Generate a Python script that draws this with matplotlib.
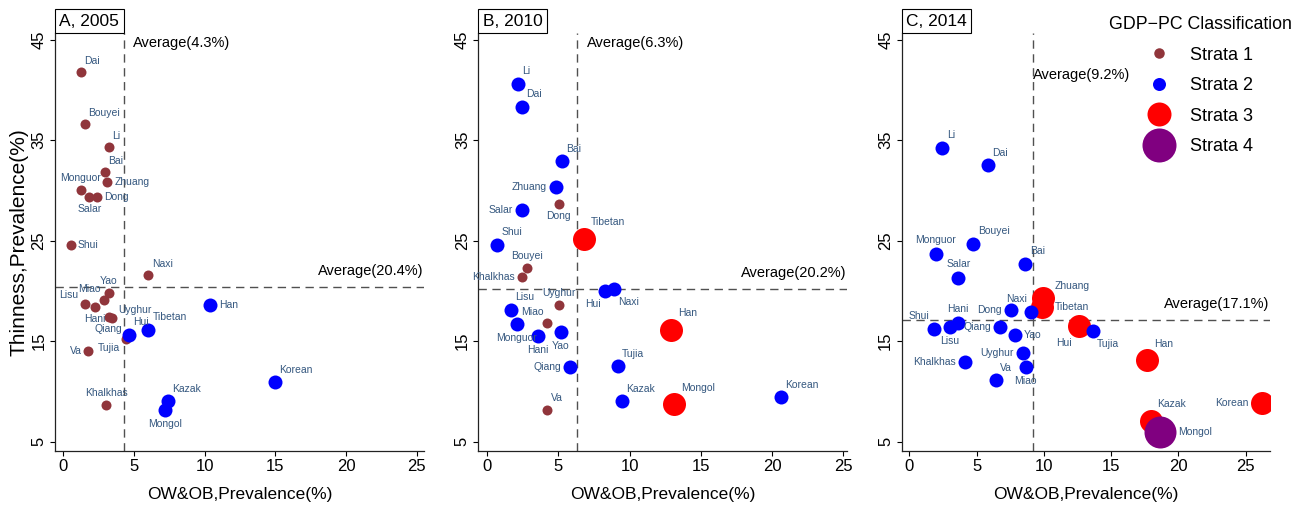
import numpy as np
import matplotlib.pyplot as plt
from matplotlib.lines import Line2D

plt.rcParams['font.family'] = ['Liberation Sans', 'DejaVu Sans']

# ethnic groups (same order for every year)
groups = ['Dai', 'Bouyei', 'Li', 'Bai', 'Zhuang', 'Monguor', 'Salar', 'Dong', 'Shui', 'Naxi',
          'Yao', 'Miao', 'Lisu', 'Hani', 'Qiang', 'Uyghur', 'Tujia', 'Va', 'Hui', 'Tibetan',
          'Han', 'Korean', 'Kazak', 'Mongol', 'Khalkhas']

# 2005
ob_2005 = [1.23, 1.51, 3.21, 2.93, 3.11, 1.23, 1.84, 2.36, 0.52, 6.01,
           3.21, 2.90, 1.51, 2.22, 3.21, 3.44, 4.43, 1.77, 4.63, 5.99,
           10.40, 14.97, 7.38, 7.19, 3.02]
thin_2005 = [41.8, 36.6, 34.3, 31.8, 30.8, 30.0, 29.3, 29.3, 24.6, 21.6,
             19.8, 19.1, 18.7, 18.4, 17.4, 17.3, 15.2, 14.0, 15.6, 16.1,
             18.6, 10.9, 9.0, 8.2, 8.6]
strata_2005 = [1, 1, 1, 1, 1, 1, 1, 1, 1, 1,
               1, 1, 1, 1, 1, 1, 1, 1, 2, 2,
               2, 2, 2, 2, 1]
pos_2005 = [1, 1, 1, 1, 3, 12, 6, 3, 3, 1,
            12, 11, 10, 6, 6, 2, 8, 9, 1, 1,
            3, 1, 1, 6, 12]

# 2010
ob_2010 = [2.44, 2.77, 2.16, 5.22, 4.82, 2.06, 2.44, 5.01, 0.66, 8.90,
           5.15, 4.21, 1.66, 3.54, 5.81, 5.01, 9.16, 4.21, 8.27, 6.79,
           12.90, 20.62, 9.46, 13.11, 2.46]
thin_2010 = [38.3, 22.3, 40.6, 32.9, 30.3, 16.7, 28.1, 28.7, 24.6, 20.2,
             15.9, 16.8, 18.1, 15.5, 12.4, 18.6, 12.5, 8.2, 20.0, 25.2,
             16.1, 9.4, 9.0, 8.7, 21.4]
strata_2010 = [2, 1, 2, 2, 2, 2, 2, 1, 2, 2,
               2, 1, 2, 2, 2, 1, 2, 1, 2, 3,
               3, 2, 2, 3, 1]
pos_2010 = [1, 12, 1, 1, 9, 6, 9, 6, 1, 5,
            6, 11, 1, 6, 9, 12, 1, 1, 7, 1,
            1, 1, 1, 1, 9]

# 2014
ob_2014 = [5.82, 4.75, 2.45, 8.62, 9.96, 1.96, 3.64, 7.53, 1.84, 9.06,
           7.83, 8.65, 3.02, 3.60, 6.74, 8.45, 13.63, 6.44, 12.61, 9.84,
           17.68, 26.20, 17.93, 18.63, 4.16]
thin_2014 = [32.5, 24.7, 34.2, 22.7, 19.3, 23.7, 21.3, 18.1, 16.2, 17.9,
             15.6, 12.4, 16.4, 16.8, 16.4, 13.8, 16.0, 11.1, 16.5, 18.4,
             13.1, 8.8, 7.1, 6.0, 12.9]
strata_2014 = [2, 2, 2, 2, 3, 2, 2, 2, 2, 2,
               2, 2, 2, 2, 2, 2, 2, 2, 3, 3,
               3, 3, 3, 4, 2]
pos_2014 = [1, 1, 1, 1, 2, 12, 12, 9, 11, 11,
            3, 6, 6, 12, 9, 9, 5, 1, 7, 3,
            1, 9, 1, 3, 9]

titles = ['A, 2005', 'B, 2010', 'C, 2014']
ob_avg = [4.3, 6.3, 9.2]
thin_avg = [20.4, 20.2, 17.1]
strata_names = ['Strata 1', 'Strata 2', 'Strata 3', 'Strata 4']

panels = [(ob_2005, thin_2005, strata_2005, pos_2005),
          (ob_2010, thin_2010, strata_2010, pos_2010),
          (ob_2014, thin_2014, strata_2014, pos_2014)]

colors = {1: '#90353b', 2: '#0000ff', 3: '#ff0000', 4: '#800080'}
radius_px = {1: 5, 2: 7, 3: 11.5, 4: 16}
zorders = {3: 3, 1: 4, 2: 5, 4: 6}
lab_color = '#34577f'
line_color = '#505050'
px = 0.72  # points per pixel at dpi 100

fig = plt.figure(figsize=(13.09, 5.12), dpi=100)
boxes = [(55, 369), (478.3, 369), (901.7, 368.3)]
xlims = [(-0.59, 25.5), (-0.63, 25.28), (-0.56, 26.8)]
vtext = [(0.65, 44.7), (0.7, 44.7), (0.0, 41.5)]

for i, (ob, thin, strata, pos) in enumerate(panels):
    left, width = boxes[i]
    ax = fig.add_axes([left / 1309, 61.3 / 512, width / 1309, 417.7 / 512])
    ob = np.array(ob)
    thin = np.array(thin)
    strata = np.array(strata)

    for s in [3, 1, 2, 4]:
        m = strata == s
        if m.any():
            ax.scatter(ob[m], thin[m], s=(2 * radius_px[s] * px) ** 2, c=colors[s],
                       linewidths=0, zorder=zorders[s])

    # marker labels, placed at clock positions around each point
    for name, x, y, s, p in zip(groups, ob, thin, strata, pos):
        g = (radius_px[s] + 2) * px
        ang = np.deg2rad(90 - 30 * p)
        c, sn = np.cos(ang), np.sin(ang)
        ha = 'left' if c > 0.3 else ('right' if c < -0.3 else 'center')
        va = 'bottom' if sn > 0.3 else ('top' if sn < -0.3 else 'center')
        ax.annotate(name, (x, y), xytext=(g * c, g * sn), textcoords='offset points',
                    ha=ha, va=va, fontsize=7.5, color=lab_color, zorder=zorders[s] + 0.5)

    ax.axvline(ob_avg[i], color=line_color, lw=1.0, dashes=(6, 4), zorder=1)
    ax.axhline(thin_avg[i], color=line_color, lw=1.0, dashes=(6, 4), zorder=1)
    ax.text(ob_avg[i] + vtext[i][0], vtext[i][1], 'Average(%.1f%%)' % ob_avg[i],
            ha='left', va='center', fontsize=10.5)
    ax.text(xlims[i][1] - 0.05, thin_avg[i] + 1.6, 'Average(%.1f%%)' % thin_avg[i],
            ha='right', va='center', fontsize=10.5)

    ax.set_xlim(*xlims[i])
    ax.set_ylim(4.1, 45.67)
    ax.set_xticks([0, 5, 10, 15, 20, 25])
    ax.set_yticks([5, 15, 25, 35, 45])
    ax.tick_params(direction='out', length=3.6, width=0.8, labelsize=12, pad=2.5)
    for lab in ax.get_yticklabels():
        lab.set_rotation(90)
        lab.set_va('center')
    for side in ['top', 'right']:
        ax.spines[side].set_visible(False)
    for side in ['left', 'bottom']:
        ax.spines[side].set_linewidth(0.9)
        ax.spines[side].set_color('#222222')
    ax.set_xlabel('OW&OB,Prevalence(%)', fontsize=12.5, labelpad=9)
    if i == 0:
        ax.set_ylabel('Thinness,Prevalence(%)', fontsize=15, labelpad=2)

    ax.annotate(titles[i], xy=(0, 1), xycoords='axes fraction', xytext=(3.1, 3.1),
                textcoords='offset points', ha='left', va='bottom', fontsize=12.5,
                bbox=dict(boxstyle='square,pad=0.25', fc='white', ec='black', lw=0.8))

    if i == 2:
        handles = [Line2D([], [], ls='none', marker='o', markersize=d * px,
                          markerfacecolor=colors[k + 1], markeredgewidth=0)
                   for k, d in enumerate([10.5, 13, 24, 34])]
        leg = ax.legend(handles, strata_names, title='GDP\u2212PC Classification',
                        loc='upper left', bbox_to_anchor=(1109 / 1309, 1 - 16 / 512),
                        bbox_transform=fig.transFigure, frameon=False, fontsize=13,
                        title_fontsize=12.8, labelspacing=0.75, handlelength=1.22,
                        handletextpad=1.1, borderpad=0, borderaxespad=0)

fig.savefig('out.png', dpi=100)
